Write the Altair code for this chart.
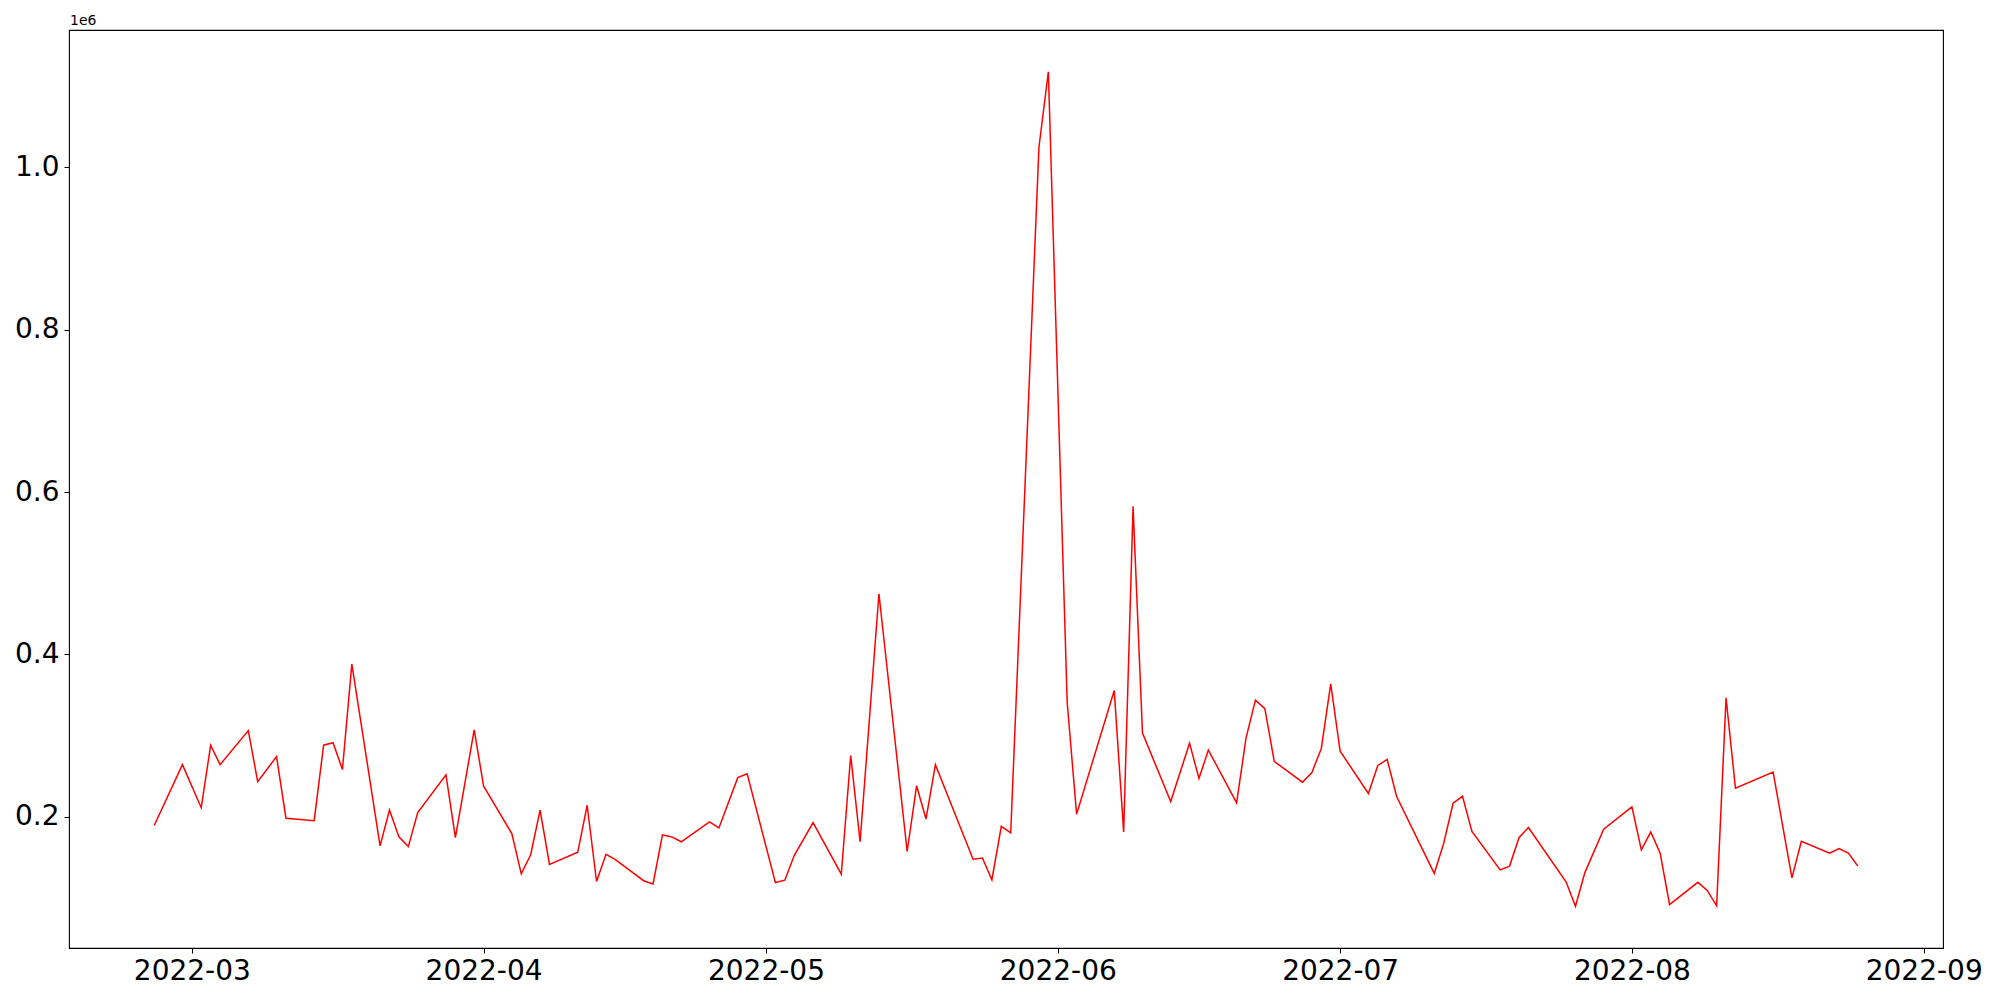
import altair as alt
import pandas as pd

dates = [
    "2022-02-25", "2022-02-28", "2022-03-02", "2022-03-03", "2022-03-04",
    "2022-03-07", "2022-03-08", "2022-03-10", "2022-03-11", "2022-03-14",
    "2022-03-15", "2022-03-16", "2022-03-17", "2022-03-18", "2022-03-21",
    "2022-03-22", "2022-03-23", "2022-03-24", "2022-03-25", "2022-03-28",
    "2022-03-29", "2022-03-31", "2022-04-01", "2022-04-04", "2022-04-05",
    "2022-04-06", "2022-04-07", "2022-04-08", "2022-04-11", "2022-04-12",
    "2022-04-13", "2022-04-14", "2022-04-15", "2022-04-18", "2022-04-19",
    "2022-04-20", "2022-04-21", "2022-04-22", "2022-04-25", "2022-04-26",
    "2022-04-28", "2022-04-29", "2022-05-02", "2022-05-03", "2022-05-04",
    "2022-05-06", "2022-05-09", "2022-05-10", "2022-05-11", "2022-05-13",
    "2022-05-16", "2022-05-17", "2022-05-18", "2022-05-19", "2022-05-23",
    "2022-05-24", "2022-05-25", "2022-05-26", "2022-05-27", "2022-05-30",
    "2022-05-31", "2022-06-02", "2022-06-03", "2022-06-07", "2022-06-08",
    "2022-06-09", "2022-06-10", "2022-06-13", "2022-06-15", "2022-06-16",
    "2022-06-17", "2022-06-20", "2022-06-21", "2022-06-22", "2022-06-23",
    "2022-06-24", "2022-06-27", "2022-06-28", "2022-06-29", "2022-06-30",
    "2022-07-01", "2022-07-04", "2022-07-05", "2022-07-06", "2022-07-07",
    "2022-07-11", "2022-07-12", "2022-07-13", "2022-07-14", "2022-07-15",
    "2022-07-18", "2022-07-19", "2022-07-20", "2022-07-21", "2022-07-25",
    "2022-07-26", "2022-07-27", "2022-07-29", "2022-08-01", "2022-08-02",
    "2022-08-03", "2022-08-04", "2022-08-05", "2022-08-08", "2022-08-09",
    "2022-08-10", "2022-08-11", "2022-08-12", "2022-08-16", "2022-08-18",
    "2022-08-19", "2022-08-22", "2022-08-23", "2022-08-24", "2022-08-25",
]

values = [
    189000, 264000, 211000, 288000, 264000,
    306000, 243000, 274000, 198000, 195000,
    288000, 291000, 258000, 388000, 164000,
    208000, 175000, 163000, 205000, 251500,
    174000, 307000, 237500, 179000, 129500,
    153000, 208000, 141000, 156000, 214000,
    120000, 153600, 147000, 121000, 117000,
    177500, 175000, 169000, 193600, 186000,
    248000, 252700, 118700, 121600, 152000,
    192700, 129000, 275300, 169000, 474700,
    157000, 238000, 197000, 264000, 147500,
    149000, 122000, 188000, 180000, 1025000,
    1118000, 341000, 203000, 355500, 181000,
    582400, 303000, 218600, 290500, 247000,
    282000, 217000, 296700, 343500, 333000,
    268000, 242400, 254400, 284000, 363700,
    280700, 228500, 263000, 270400, 224800,
    130000, 167000, 216500, 225000, 181600,
    134400, 139000, 174000, 186600, 119600,
    89500, 131000, 184500, 212000, 159000,
    181000, 155000, 91600, 119000, 109000,
    90000, 346500, 235000, 255000, 124500,
    169700, 155000, 160700, 155000, 139000,
]

y_ticks = [200000, 400000, 600000, 800000, 1000000]
x_tick_months = [3, 4, 5, 6, 7, 8, 9]

df = pd.DataFrame({"date": dates, "value": values})

font = "DejaVu Sans"

x_domain = [
    alt.DateTime(year=2022, month=2, date=15, hours=22, minutes=48, utc=True),
    alt.DateTime(year=2022, month=9, date=3, hours=1, minutes=12, utc=True),
]
x_values = [alt.DateTime(year=2022, month=m, date=1, utc=True) for m in x_tick_months]

line = alt.Chart(df).mark_line(color="#ff0000", strokeWidth=1.5).encode(
    x=alt.X(
        "date:T",
        scale=alt.Scale(type="utc", domain=x_domain, nice=False),
        axis=alt.Axis(
            values=x_values,
            labelExpr="utcFormat(datum.value, '%Y-%m')",
            title=None,
            grid=False,
            labelFontSize=28,
            labelFont=font,
            labelColor="black",
            tickColor="black",
            tickSize=5,
            tickWidth=1,
            domain=False,
            labelPadding=4,
            labelFlush=False,
            labelOverlap=False,
        ),
    ),
    y=alt.Y(
        "value:Q",
        scale=alt.Scale(domain=[38075, 1169425], nice=False, zero=False),
        axis=alt.Axis(
            values=y_ticks,
            labelExpr="format(datum.value / 1000000, '.1f')",
            title=None,
            grid=False,
            labelFontSize=28,
            labelFont=font,
            labelColor="black",
            tickColor="black",
            tickSize=5,
            tickWidth=1,
            domain=False,
            labelPadding=5,
            labelFlush=False,
            labelOverlap=False,
        ),
    ),
)

offset = alt.Chart(pd.DataFrame({"t": ["1e6"]})).mark_text(
    align="left", baseline="alphabetic", fontSize=14, font=font, color="black"
).encode(
    x=alt.value(1),
    y=alt.value(-5),
    text="t:N",
)

chart = (
    alt.layer(line, offset)
    .properties(
        width=1874,
        height=918,
        autosize=alt.AutoSizeParams(type="none"),
        padding={"left": 61, "top": 22, "right": 40, "bottom": 40},
        background="white",
    )
    .configure_view(stroke="black", strokeWidth=1.1)
)

chart.save("out.html", embed_options={"renderer": "svg", "actions": False})
